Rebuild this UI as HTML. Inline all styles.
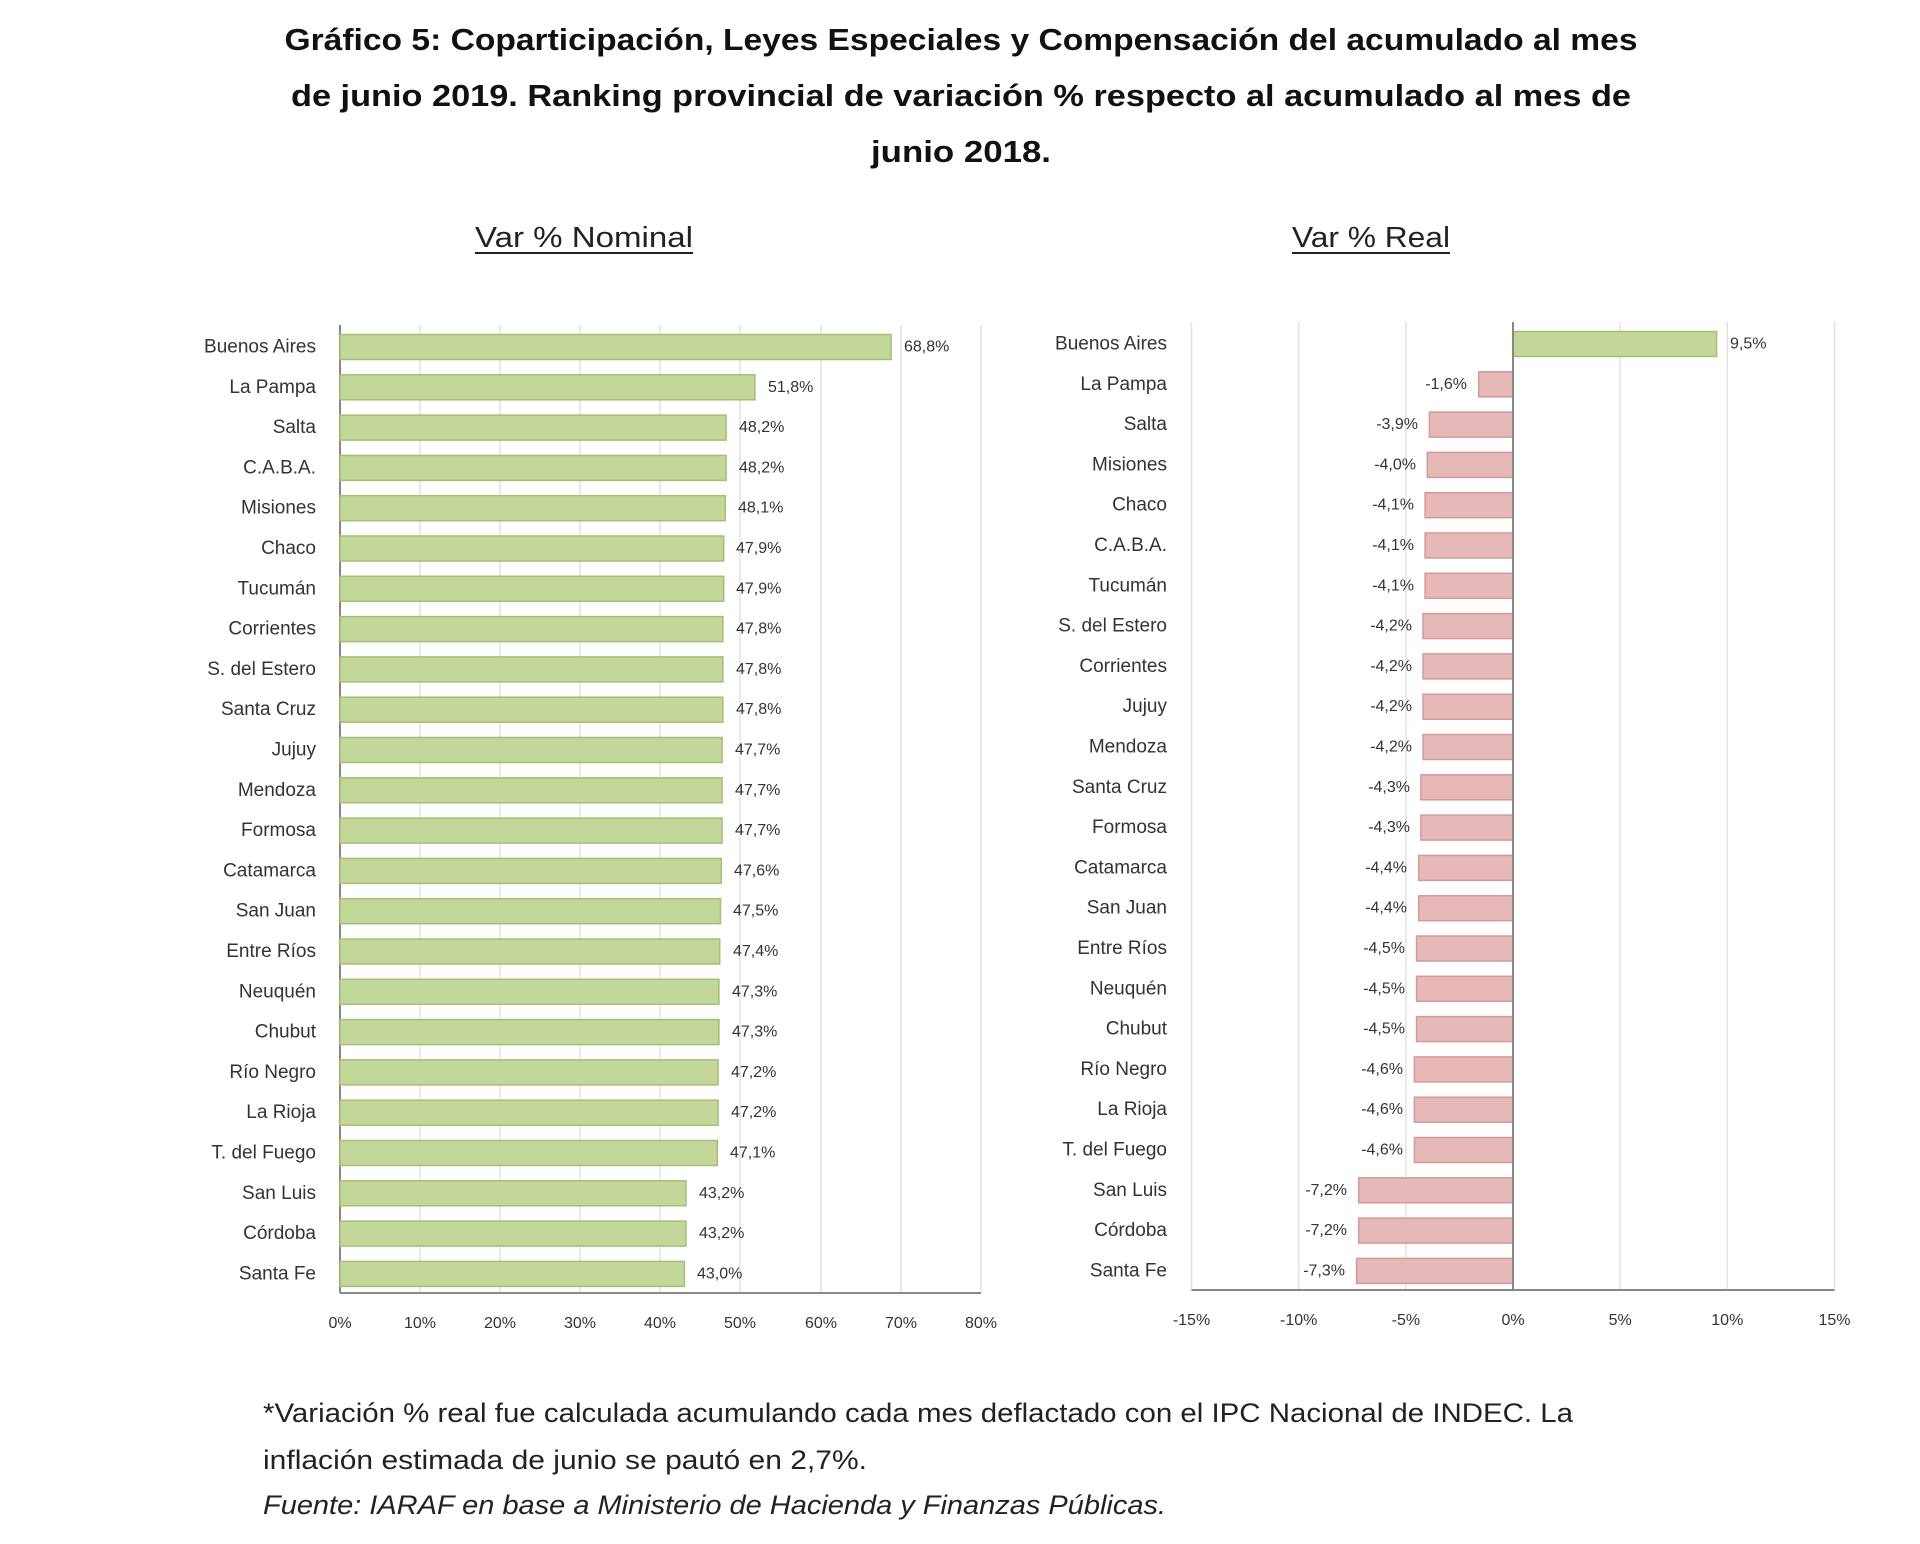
<!DOCTYPE html>
<html><head><meta charset="utf-8"><style>body{margin:0;background:#fff}svg{display:block}</style></head><body>
<svg width="1920" height="1544" xmlns="http://www.w3.org/2000/svg" font-family="Liberation Sans, sans-serif">
<rect width="1920" height="1544" fill="#fff"/>
<g font-weight="bold" font-size="31" fill="#111" text-anchor="middle">
<text x="961" y="50" textLength="1353" lengthAdjust="spacingAndGlyphs">Gráfico 5: Coparticipación, Leyes Especiales y Compensación del acumulado al mes</text>
<text x="961" y="106" textLength="1340" lengthAdjust="spacingAndGlyphs">de junio 2019. Ranking provincial de variación % respecto al acumulado al mes de</text>
<text x="961" y="162" textLength="180" lengthAdjust="spacingAndGlyphs">junio 2018.</text>
</g>
<g font-size="29" fill="#222">
<text x="475" y="247" textLength="218" lengthAdjust="spacingAndGlyphs">Var % Nominal</text>
<line x1="475" y1="253" x2="693" y2="253" stroke="#222" stroke-width="2"/>
<text x="1292" y="247" textLength="158" lengthAdjust="spacingAndGlyphs">Var % Real</text>
<line x1="1292" y1="253" x2="1450" y2="253" stroke="#222" stroke-width="2"/>
</g>
<!-- LEFT CHART -->
<g stroke="#e2e2e2" stroke-width="1.5">
<line x1="420" y1="325" x2="420" y2="1293"/><line x1="500" y1="325" x2="500" y2="1293"/><line x1="580" y1="325" x2="580" y2="1293"/><line x1="660" y1="325" x2="660" y2="1293"/><line x1="740" y1="325" x2="740" y2="1293"/><line x1="821" y1="325" x2="821" y2="1293"/><line x1="901" y1="325" x2="901" y2="1293"/><line x1="981" y1="325" x2="981" y2="1293"/>
</g>
<line x1="340" y1="325" x2="340" y2="1293" stroke="#888" stroke-width="2"/>
<line x1="340" y1="1293" x2="981" y2="1293" stroke="#888" stroke-width="2"/>
<g fill="#c4d79b" stroke="#a6bf72" stroke-width="1.5">
<rect x="340" y="334.5" width="551.1" height="25"/>
<rect x="340" y="374.8" width="414.9" height="25"/>
<rect x="340" y="415.1" width="386.1" height="25"/>
<rect x="340" y="455.4" width="386.1" height="25"/>
<rect x="340" y="495.7" width="385.3" height="25"/>
<rect x="340" y="536" width="383.7" height="25"/>
<rect x="340" y="576.3" width="383.7" height="25"/>
<rect x="340" y="616.6" width="382.9" height="25"/>
<rect x="340" y="656.9" width="382.9" height="25"/>
<rect x="340" y="697.2" width="382.9" height="25"/>
<rect x="340" y="737.5" width="382.1" height="25"/>
<rect x="340" y="777.8" width="382.1" height="25"/>
<rect x="340" y="818.1" width="382.1" height="25"/>
<rect x="340" y="858.4" width="381.3" height="25"/>
<rect x="340" y="898.7" width="380.5" height="25"/>
<rect x="340" y="939" width="379.7" height="25"/>
<rect x="340" y="979.3" width="378.9" height="25"/>
<rect x="340" y="1019.6" width="378.9" height="25"/>
<rect x="340" y="1059.9" width="378.1" height="25"/>
<rect x="340" y="1100.2" width="378.1" height="25"/>
<rect x="340" y="1140.5" width="377.3" height="25"/>
<rect x="340" y="1180.8" width="346" height="25"/>
<rect x="340" y="1221.1" width="346" height="25"/>
<rect x="340" y="1261.4" width="344.4" height="25"/>
</g>
<g font-size="19" fill="#333" text-anchor="end" dominant-baseline="central">
<text x="316" y="347">Buenos Aires</text><text x="316" y="387.3">La Pampa</text><text x="316" y="427.6">Salta</text><text x="316" y="467.9">C.A.B.A.</text><text x="316" y="508.2">Misiones</text><text x="316" y="548.5">Chaco</text><text x="316" y="588.8">Tucumán</text><text x="316" y="629.1">Corrientes</text><text x="316" y="669.4">S. del Estero</text><text x="316" y="709.7">Santa Cruz</text><text x="316" y="750">Jujuy</text><text x="316" y="790.3">Mendoza</text><text x="316" y="830.6">Formosa</text><text x="316" y="870.9">Catamarca</text><text x="316" y="911.2">San Juan</text><text x="316" y="951.5">Entre Ríos</text><text x="316" y="991.8">Neuquén</text><text x="316" y="1032.1">Chubut</text><text x="316" y="1072.4">Río Negro</text><text x="316" y="1112.7">La Rioja</text><text x="316" y="1153">T. del Fuego</text><text x="316" y="1193.3">San Luis</text><text x="316" y="1233.6">Córdoba</text><text x="316" y="1273.9">Santa Fe</text>
</g>
<g font-size="16" fill="#333" dominant-baseline="central">
<text x="904" y="347">68,8%</text><text x="768" y="387.3">51,8%</text><text x="739" y="427.6">48,2%</text><text x="739" y="467.9">48,2%</text><text x="738" y="508.2">48,1%</text><text x="736" y="548.5">47,9%</text><text x="736" y="588.8">47,9%</text><text x="736" y="629.1">47,8%</text><text x="736" y="669.4">47,8%</text><text x="736" y="709.7">47,8%</text><text x="735" y="750">47,7%</text><text x="735" y="790.3">47,7%</text><text x="735" y="830.6">47,7%</text><text x="734" y="870.9">47,6%</text><text x="733" y="911.2">47,5%</text><text x="733" y="951.5">47,4%</text><text x="732" y="991.8">47,3%</text><text x="732" y="1032.1">47,3%</text><text x="731" y="1072.4">47,2%</text><text x="731" y="1112.7">47,2%</text><text x="730" y="1153">47,1%</text><text x="699" y="1193.3">43,2%</text><text x="699" y="1233.6">43,2%</text><text x="697" y="1273.9">43,0%</text>
</g>
<g font-size="16" fill="#333" text-anchor="middle">
<text x="340" y="1328">0%</text><text x="420" y="1328">10%</text><text x="500" y="1328">20%</text><text x="580" y="1328">30%</text><text x="660" y="1328">40%</text><text x="740" y="1328">50%</text><text x="821" y="1328">60%</text><text x="901" y="1328">70%</text><text x="981" y="1328">80%</text>
</g>
<!-- RIGHT CHART -->
<g stroke="#e2e2e2" stroke-width="1.5">
<line x1="1191.5" y1="322" x2="1191.5" y2="1290"/><line x1="1298.7" y1="322" x2="1298.7" y2="1290"/><line x1="1405.9" y1="322" x2="1405.9" y2="1290"/><line x1="1620.2" y1="322" x2="1620.2" y2="1290"/><line x1="1727.3" y1="322" x2="1727.3" y2="1290"/><line x1="1834.5" y1="322" x2="1834.5" y2="1290"/>
</g>
<line x1="1191.5" y1="1290" x2="1834.5" y2="1290" stroke="#888" stroke-width="2"/>
<g transform="translate(0,-3)">
<g fill="#e6b9b8" stroke="#d49a98" stroke-width="1.5">
<rect x="1478.7" y="374.8" width="34.3" height="25"/>
<rect x="1429.4" y="415.1" width="83.6" height="25"/>
<rect x="1427.3" y="455.4" width="85.7" height="25"/>
<rect x="1425.1" y="495.7" width="87.9" height="25"/>
<rect x="1425.1" y="536" width="87.9" height="25"/>
<rect x="1425.1" y="576.3" width="87.9" height="25"/>
<rect x="1423" y="616.6" width="90" height="25"/>
<rect x="1423" y="656.9" width="90" height="25"/>
<rect x="1423" y="697.2" width="90" height="25"/>
<rect x="1423" y="737.5" width="90" height="25"/>
<rect x="1420.9" y="777.8" width="92.1" height="25"/>
<rect x="1420.9" y="818.1" width="92.1" height="25"/>
<rect x="1418.7" y="858.4" width="94.3" height="25"/>
<rect x="1418.7" y="898.7" width="94.3" height="25"/>
<rect x="1416.6" y="939" width="96.4" height="25"/>
<rect x="1416.6" y="979.3" width="96.4" height="25"/>
<rect x="1416.6" y="1019.6" width="96.4" height="25"/>
<rect x="1414.4" y="1059.9" width="98.6" height="25"/>
<rect x="1414.4" y="1100.2" width="98.6" height="25"/>
<rect x="1414.4" y="1140.5" width="98.6" height="25"/>
<rect x="1358.7" y="1180.8" width="154.3" height="25"/>
<rect x="1358.7" y="1221.1" width="154.3" height="25"/>
<rect x="1356.6" y="1261.4" width="156.4" height="25"/>
</g>
<rect x="1513" y="334.5" width="203.6" height="25" fill="#c4d79b" stroke="#a6bf72" stroke-width="1.5"/>
<g font-size="19" fill="#333" text-anchor="end" dominant-baseline="central">
<text x="1167" y="347">Buenos Aires</text><text x="1167" y="387.3">La Pampa</text><text x="1167" y="427.6">Salta</text><text x="1167" y="467.9">Misiones</text><text x="1167" y="508.2">Chaco</text><text x="1167" y="548.5">C.A.B.A.</text><text x="1167" y="588.8">Tucumán</text><text x="1167" y="629.1">S. del Estero</text><text x="1167" y="669.4">Corrientes</text><text x="1167" y="709.7">Jujuy</text><text x="1167" y="750">Mendoza</text><text x="1167" y="790.3">Santa Cruz</text><text x="1167" y="830.6">Formosa</text><text x="1167" y="870.9">Catamarca</text><text x="1167" y="911.2">San Juan</text><text x="1167" y="951.5">Entre Ríos</text><text x="1167" y="991.8">Neuquén</text><text x="1167" y="1032.1">Chubut</text><text x="1167" y="1072.4">Río Negro</text><text x="1167" y="1112.7">La Rioja</text><text x="1167" y="1153">T. del Fuego</text><text x="1167" y="1193.3">San Luis</text><text x="1167" y="1233.6">Córdoba</text><text x="1167" y="1273.9">Santa Fe</text>
</g>
<g font-size="16" fill="#333" text-anchor="end" dominant-baseline="central">
<text x="1467" y="387.3">-1,6%</text><text x="1418" y="427.6">-3,9%</text><text x="1416" y="467.9">-4,0%</text><text x="1414" y="508.2">-4,1%</text><text x="1414" y="548.5">-4,1%</text><text x="1414" y="588.8">-4,1%</text><text x="1412" y="629.1">-4,2%</text><text x="1412" y="669.4">-4,2%</text><text x="1412" y="709.7">-4,2%</text><text x="1412" y="750">-4,2%</text><text x="1410" y="790.3">-4,3%</text><text x="1410" y="830.6">-4,3%</text><text x="1407" y="870.9">-4,4%</text><text x="1407" y="911.2">-4,4%</text><text x="1405" y="951.5">-4,5%</text><text x="1405" y="991.8">-4,5%</text><text x="1405" y="1032.1">-4,5%</text><text x="1403" y="1072.4">-4,6%</text><text x="1403" y="1112.7">-4,6%</text><text x="1403" y="1153">-4,6%</text><text x="1347" y="1193.3">-7,2%</text><text x="1347" y="1233.6">-7,2%</text><text x="1345" y="1273.9">-7,3%</text>
</g>
<text x="1730" y="347" font-size="16" fill="#333" dominant-baseline="central">9,5%</text>
</g>
<line x1="1513" y1="322" x2="1513" y2="1290" stroke="#888" stroke-width="2"/>
<g font-size="16" fill="#333" text-anchor="middle">
<text x="1191.5" y="1325">-15%</text><text x="1298.7" y="1325">-10%</text><text x="1405.9" y="1325">-5%</text><text x="1513" y="1325">0%</text><text x="1620.2" y="1325">5%</text><text x="1727.3" y="1325">10%</text><text x="1834.5" y="1325">15%</text>
</g>
<!-- FOOTNOTE -->
<g font-size="27" fill="#222">
<text x="263" y="1422" textLength="1310" lengthAdjust="spacingAndGlyphs">*Variación % real fue calculada acumulando cada mes deflactado con el IPC Nacional de INDEC. La</text>
<text x="263" y="1469" textLength="604" lengthAdjust="spacingAndGlyphs">inflación estimada de junio se pautó en 2,7%.</text>
<text x="263" y="1514" font-style="italic" textLength="903" lengthAdjust="spacingAndGlyphs">Fuente: IARAF en base a Ministerio de Hacienda y Finanzas Públicas.</text>
</g>
</svg>
</body></html>
